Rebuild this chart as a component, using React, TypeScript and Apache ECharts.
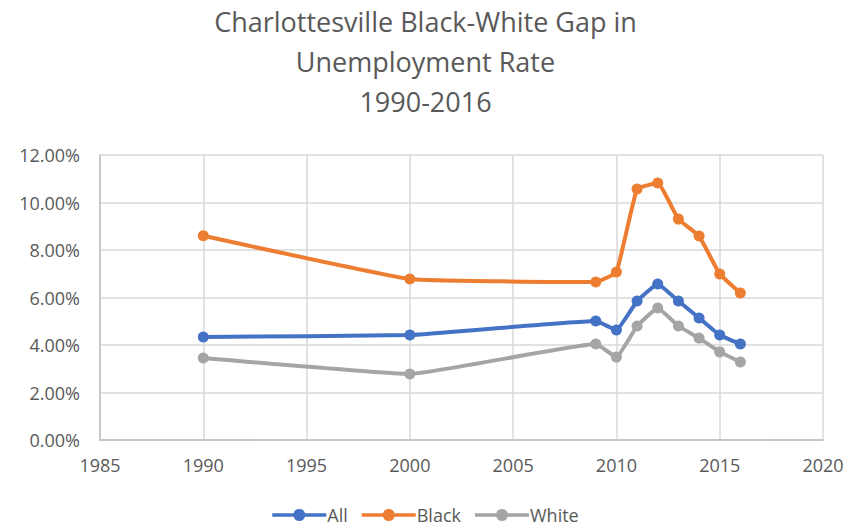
import React, { useEffect, useRef } from "react";
import * as echarts from "echarts";

const years = [1990, 2000, 2009, 2010, 2011, 2012, 2013, 2014, 2015, 2016];
const allRate = [4.34, 4.42, 5.01, 4.63, 5.85, 6.57, 5.85, 5.14, 4.42, 4.04];
const blackRate = [8.6, 6.78, 6.65, 7.07, 10.57, 10.82, 9.3, 8.59, 6.99, 6.19];
const whiteRate = [3.45, 2.78, 4.04, 3.49, 4.8, 5.56, 4.8, 4.29, 3.71, 3.28];
const titleLines = ["Charlottesville Black-White Gap in", "Unemployment Rate", "1990-2016"];

const FONT = "'Open Sans', 'Liberation Sans', sans-serif";
const TXT = "#595959";

export default function App() {
  const ref = useRef<HTMLDivElement>(null);
  useEffect(() => {
    if (!ref.current) return;
    const chart = echarts.init(ref.current, null, { renderer: "svg" });
    const mk = (name: string, vals: number[], color: string) => ({
      name,
      type: "line",
      data: years.map((y, i) => [y, vals[i]]),
      smooth: 0.1,
      symbol: "circle",
      symbolSize: 11,
      itemStyle: { color },
      lineStyle: { color, width: 4 },
    });
    chart.setOption({
      animation: false,
      backgroundColor: "#ffffff",
      textStyle: { fontFamily: FONT },
      title: {
        text: titleLines.join("\n"),
        left: "center",
        top: -4,
        textStyle: {
          fontFamily: FONT,
          fontSize: 27,
          fontWeight: "normal",
          color: TXT,
          lineHeight: 40,
        },
      },
      legend: {
        bottom: 0,
        left: "center",
        itemWidth: 54,
        itemHeight: 12,
        itemGap: 14,
        icon: "path://M0,4.2 L21.28,4.2 A6,6 0 0 1 32.72,4.2 L54,4.2 L54,7.8 L32.72,7.8 A6,6 0 0 1 21.28,7.8 L0,7.8 Z",
        textStyle: { fontFamily: FONT, fontSize: 18, color: TXT, padding: [0, 0, 0, -4] },
        data: ["All", "Black", "White"],
      },
      grid: { left: 100, right: 28, top: 155, bottom: 89, containLabel: false },
      xAxis: {
        type: "value",
        min: 1985,
        max: 2020,
        interval: 5,
        axisLine: { show: true, lineStyle: { color: "#bfbfbf", width: 1.5 } },
        axisTick: { show: false },
        splitLine: { show: true, lineStyle: { color: "#d9d9d9", width: 1.5 } },
        axisLabel: {
          fontFamily: FONT,
          fontSize: 18,
          color: TXT,
          margin: 16,
          formatter: (v: number) => String(v),
        },
      },
      yAxis: {
        type: "value",
        min: 0,
        max: 12,
        interval: 2,
        axisLine: { show: true, lineStyle: { color: "#bfbfbf", width: 1.5 } },
        axisTick: { show: false },
        splitLine: { show: true, lineStyle: { color: "#d9d9d9", width: 1.5 } },
        axisLabel: {
          fontFamily: FONT,
          fontSize: 18,
          color: TXT,
          margin: 20,
          formatter: (v: number) => v.toFixed(2) + "%",
        },
      },
      series: [
        mk("All", allRate, "#4472C4"),
        mk("Black", blackRate, "#ED7D31"),
        mk("White", whiteRate, "#A5A5A5"),
      ],
    });
    return () => chart.dispose();
  }, []);
  return <div ref={ref} style={{ width: 851, height: 529, position: "absolute", left: 0, top: 0 }} />;
}
